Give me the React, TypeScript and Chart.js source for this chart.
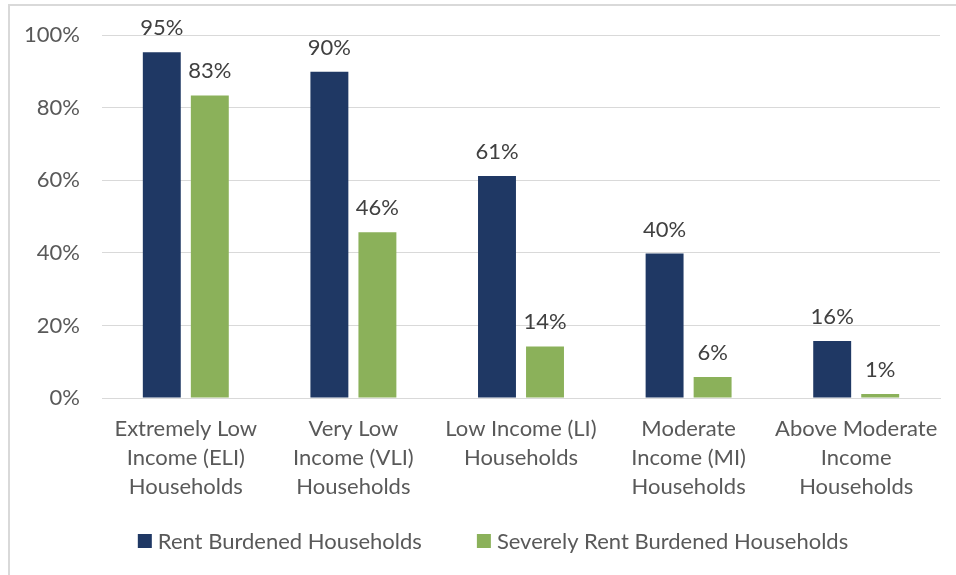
import React, { useEffect, useRef } from "react";
import { Chart, registerables } from "chart.js";

Chart.register(...registerables);

const categories: string[][] = [
  ["Extremely Low", "Income (ELI)", "Households"],
  ["Very Low", "Income (VLI)", "Households"],
  ["Low Income (LI)", "Households"],
  ["Moderate", "Income (MI)", "Households"],
  ["Above Moderate", "Income", "Households"],
];
const rentBurdened = [95.3, 89.9, 61.2, 39.8, 15.7];
const severelyRentBurdened = [83.4, 45.7, 14.2, 5.8, 1.1];
const seriesNames = ["Rent Burdened Households", "Severely Rent Burdened Households"];
const seriesColors = ["#1F3864", "#8BB15A"];
const yTicks = [0, 20, 40, 60, 80, 100];

const FONT = "Lato";
const FS = 22;

const dataLabels = {
  id: "dataLabels",
  afterDatasetsDraw(chart: any) {
    const ctx = chart.ctx;
    ctx.save();
    ctx.font = `${FS}px ${FONT}`;
    ctx.fillStyle = "#404040";
    ctx.textAlign = "center";
    ctx.textBaseline = "alphabetic";
    chart.data.datasets.forEach((ds: any, di: number) => {
      const meta = chart.getDatasetMeta(di);
      meta.data.forEach((el: any, i: number) => {
        const v = ds.data[i];
        ctx.fillText(Math.round(v) + "%", el.x, el.y - 17);
      });
    });
    ctx.restore();
  },
};

// Bottom legend drawn from the datasets, with Excel-like spacing
const customLegend = {
  id: "customLegend",
  afterDraw(chart: any) {
    const ctx = chart.ctx;
    ctx.save();
    ctx.font = `${FS}px ${FONT}`;
    ctx.textBaseline = "middle";
    ctx.textAlign = "left";
    const box = 14;
    const gap = 6;
    const itemGap = 55;
    const items = chart.data.datasets.map((ds: any) => ({
      label: ds.label,
      color: ds.backgroundColor,
      w: box + gap + ctx.measureText(ds.label).width,
    }));
    const total =
      items.reduce((a: number, it: any) => a + it.w, 0) + itemGap * (items.length - 1);
    const cx = 493;
    const cy = chart.chartArea.bottom + 143;
    let x = cx - total / 2;
    items.forEach((it: any) => {
      ctx.fillStyle = it.color;
      ctx.fillRect(x, cy - box / 2, box, box);
      ctx.fillStyle = "#595959";
      ctx.fillText(it.label, x + box + gap, cy + 1);
      x += it.w + itemGap;
    });
    ctx.restore();
  },
};

export default function App() {
  const ref = useRef<HTMLCanvasElement>(null);
  useEffect(() => {
    if (!ref.current) return;
    const chart = new Chart(ref.current, {
      type: "bar",
      data: {
        labels: categories,
        datasets: [
          {
            label: seriesNames[0],
            data: rentBurdened,
            backgroundColor: seriesColors[0],
            categoryPercentage: 0.573,
            barPercentage: 0.79,
          },
          {
            label: seriesNames[1],
            data: severelyRentBurdened,
            backgroundColor: seriesColors[1],
            categoryPercentage: 0.573,
            barPercentage: 0.79,
          },
        ],
      },
      options: {
        animation: false,
        responsive: false,
        layout: { padding: { top: 32, left: 20, right: 16, bottom: 55 } },
        plugins: {
          legend: { display: false },
          tooltip: { enabled: false },
        },
        scales: {
          x: {
            grid: { display: false },
            border: { display: true, color: "#d9d9d9" },
            ticks: {
              color: "#595959",
              font: { family: FONT, size: FS, lineHeight: 1.32 },
              padding: 8,
              maxRotation: 0,
              autoSkip: false,
            },
            afterFit: (s: any) => {
              s.height = 122;
            },
          },
          y: {
            min: 0,
            max: 100,
            afterBuildTicks: (s: any) => {
              s.ticks = yTicks.map((v) => ({ value: v }));
            },
            grid: { color: "#d9d9d9", lineWidth: 1, drawTicks: false },
            border: { display: false },
            ticks: {
              color: "#595959",
              font: { family: FONT, size: FS },
              padding: 22,
              callback: (v: any) => v + "%",
            },
            afterFit: (s: any) => {
              s.width = 82;
            },
          },
        },
      },
      plugins: [dataLabels, customLegend],
    });
    return () => chart.destroy();
  }, []);
  return (
    <div
      style={{
        position: "fixed",
        left: 0,
        top: 0,
        width: 956,
        height: 575,
        overflow: "hidden",
        background: "#ffffff",
      }}
    >
      <div
        style={{
          position: "absolute",
          left: 8,
          top: 4,
          width: 980,
          height: 620,
          border: "2px solid #d9d9d9",
          boxSizing: "border-box",
        }}
      />
      <canvas
        ref={ref}
        width={956}
        height={575}
        style={{ position: "absolute", left: 0, top: 0, width: 956, height: 575 }}
      />
    </div>
  );
}
